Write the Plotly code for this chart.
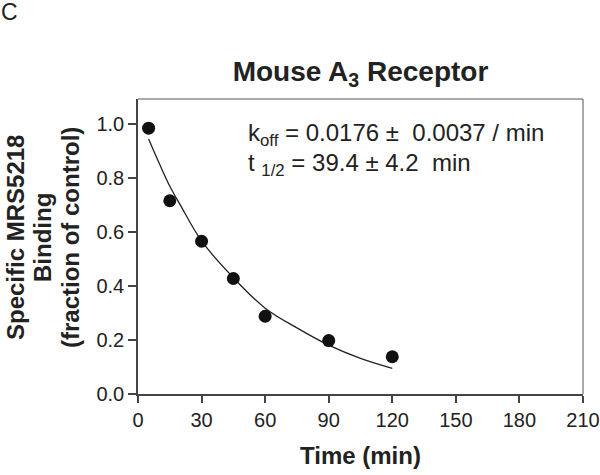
import plotly.graph_objects as go

# Data points (time in min, fraction of control)
time_pts = [5, 15, 30, 45, 60, 90, 120]
binding_pts = [0.985, 0.716, 0.566, 0.428, 0.288, 0.198, 0.138]

# Fitted curve
fit_time = [5, 10, 15, 20, 30, 45, 60, 75, 90, 105, 120]
fit_binding = [0.945, 0.855, 0.77, 0.70, 0.567, 0.431, 0.318, 0.245, 0.181, 0.132, 0.095]

x_ticks = [0, 30, 60, 90, 120, 150, 180, 210]
y_ticks = [0.0, 0.2, 0.4, 0.6, 0.8, 1.0]
y_tick_labels = ["0.0", "0.2", "0.4", "0.6", "0.8", "1.0"]

FONT = "Liberation Sans, Arial, Helvetica, sans-serif"
TXT = "#222222"

L, R, T, B = 138, 17, 99, 81
W, H = 600, 475
PW, PH = W - L - R, H - T - B


def px(xp):
    return (xp - L) / PW


def py(yp):
    return (H - B - yp) / PH


fig = go.Figure()
fig.add_trace(go.Scatter(
    x=fit_time, y=fit_binding, mode="lines", line_shape="spline",
    line=dict(color="#222222", width=1.3), showlegend=False, hoverinfo="skip"))
fig.add_trace(go.Scatter(
    x=time_pts, y=binding_pts, mode="markers",
    marker=dict(color="#111111", size=13), showlegend=False))

fig.update_layout(
    template="none",
    width=W, height=H,
    margin=dict(l=L, r=R, t=T, b=B, pad=0),
    paper_bgcolor="white", plot_bgcolor="white",
    font=dict(family=FONT, color=TXT, size=20),
    title=dict(text="<b>Mouse A<sub>3</sub> Receptor</b>", xref="paper", x=0.5, xanchor="center",
               yref="container", y=1 - 71 / H, yanchor="middle", font=dict(size=28, color=TXT)),
    xaxis=dict(range=[0, 210], tickvals=x_ticks, ticktext=[str(v) for v in x_ticks],
               automargin=False,
               showgrid=False, zeroline=False, showline=True, linecolor="#444444", linewidth=1.5,
               ticks="outside", ticklen=7, tickwidth=1.5, tickcolor="#444444",
               tickfont=dict(size=20, color=TXT)),
    yaxis=dict(range=[0, 1.093], tickvals=y_ticks, ticktext=y_tick_labels,
               automargin=False,
               showgrid=False, zeroline=False, showline=True, linecolor="#444444", linewidth=1.5,
               ticks="outside", ticklen=8, tickwidth=1.5, tickcolor="#444444",
               tickfont=dict(size=20, color=TXT)),
)

# top and right frame lines
fig.add_shape(type="line", xref="x domain", yref="y domain", x0=0, x1=1, y0=1, y1=1,
              line=dict(color="#555555", width=1))
fig.add_shape(type="line", xref="x domain", yref="y domain", x0=1, x1=1, y0=0, y1=1,
              line=dict(color="#555555", width=1))

y_title_lines = ["Specific MRS5218", "Binding", "(fraction of control)"]
for xc, line in zip([15, 42, 70], y_title_lines):
    fig.add_annotation(text="<b>" + line + "</b>", xref="paper", yref="paper",
                       x=px(xc), y=py(238), textangle=-90, showarrow=False,
                       font=dict(size=24, color=TXT), xanchor="center", yanchor="middle")

fig.add_annotation(text="<b>Time (min)</b>", xref="paper", yref="paper",
                   x=px(360), y=py(455), showarrow=False,
                   font=dict(size=24, color=TXT), xanchor="center", yanchor="middle")
fig.add_annotation(text="C", xref="paper", yref="paper", x=px(-1), y=py(12),
                   showarrow=False, font=dict(size=23, color=TXT),
                   xanchor="left", yanchor="middle")
fig.add_annotation(text="k<sub>off</sub> = 0.0176 \u00b1  0.0037 / min", xref="paper", yref="paper",
                   x=px(246), y=py(134), showarrow=False,
                   font=dict(size=24, color=TXT), xanchor="left", yanchor="middle")
fig.add_annotation(text="t <sub>1/2</sub> = 39.4 \u00b1 4.2  min", xref="paper", yref="paper",
                   x=px(246), y=py(164), showarrow=False,
                   font=dict(size=24, color=TXT), xanchor="left", yanchor="middle")

fig.write_html("out.html", config={"displayModeBar": False},
               post_script="document.body.style.margin='0';")
